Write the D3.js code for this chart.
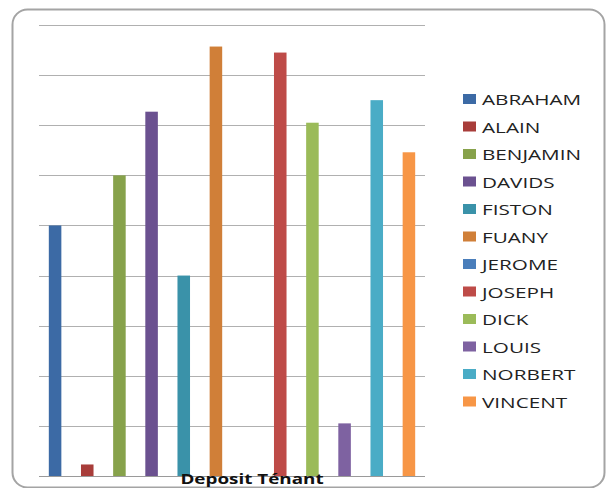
<!DOCTYPE html>
<html>
<head>
<meta charset="utf-8">
<script src="https://cdn.jsdelivr.net/npm/d3@7"></script>
<style>
  body { margin: 0; background: #fff; }
  svg { display: block; }
</style>
</head>
<body>
<script>
// tenants, in legend order
const tenants = ["ABRAHAM", "ALAIN", "BENJAMIN", "DAVIDS", "FISTON", "FUANY",
                 "JEROME", "JOSEPH", "DICK", "LOUIS", "NORBERT", "VINCENT"];
const deposits = [5, 0.23, 6, 7.27, 4, 8.57, 0, 8.45, 7.05, 1.05, 7.5, 6.46];
const colors = ["#3c6aa5", "#a83d3a", "#87a24b", "#6b5190", "#3a92a9", "#d07f38",
                "#4a7ebb", "#be4b48", "#9bbb59", "#7e62a1", "#4aacc6", "#f79646"];
const gridTicks = [0, 1, 2, 3, 4, 5, 6, 7, 8, 9];
const title = "Deposit Ténant";

const width = 606, height = 488;
const plot = { left: 39, right: 425, top: 25, bottom: 476 };

const svg = d3.select("body").append("svg")
    .attr("width", width)
    .attr("height", height);

// chart frame
svg.append("rect")
    .attr("x", 12.5).attr("y", 9.5)
    .attr("width", 592).attr("height", 478)
    .attr("rx", 15).attr("ry", 15)
    .attr("fill", "#fff")
    .attr("stroke", "#a4a4a4")
    .attr("stroke-width", 2);

const x = d3.scaleBand()
    .domain(tenants)
    .range([plot.left, plot.right])
    .paddingInner(0.61)
    .paddingOuter(0.305);

const y = d3.scaleLinear()
    .domain([0, 9])
    .range([plot.bottom, plot.top]);

// gridlines
svg.append("g")
    .selectAll("line")
    .data(gridTicks)
    .enter().append("line")
    .attr("x1", plot.left)
    .attr("x2", plot.right)
    .attr("y1", d => Math.round(y(d)) + 0.5)
    .attr("y2", d => Math.round(y(d)) + 0.5)
    .attr("stroke", d => d === 0 ? "#9a9a9a" : "#b0b0b0")
    .attr("stroke-width", 1);

// bars
svg.append("g")
    .selectAll("rect")
    .data(tenants)
    .enter().append("rect")
    .attr("x", d => x(d))
    .attr("width", x.bandwidth())
    .attr("y", (d, i) => y(deposits[i]))
    .attr("height", (d, i) => y(0) - y(deposits[i]))
    .attr("fill", (d, i) => colors[i]);

// title under the bars (text looks stretched in the source, so widen it)
svg.append("text")
    .attr("transform", "translate(252,484) scale(1.3,1)")
    .attr("text-anchor", "middle")
    .attr("font-family", "'Open Sans', sans-serif")
    .attr("font-weight", "bold")
    .attr("font-size", 14.5)
    .attr("fill", "#111")
    .text(title);

// legend
const legend = svg.append("g")
    .selectAll("g")
    .data(tenants)
    .enter().append("g")
    .attr("transform", (d, i) => `translate(463,${99 + i * 27.5})`);

legend.append("rect")
    .attr("x", 0).attr("y", -5)
    .attr("width", 13).attr("height", 10)
    .attr("fill", (d, i) => colors[i]);

legend.append("text")
    .attr("transform", "translate(19,6) scale(1.38,1)")
    .attr("font-family", "'Open Sans', sans-serif")
    .attr("font-size", 15)
    .attr("font-weight", 500)
    .attr("fill", "#222")
    .text(d => d);
</script>
</body>
</html>
